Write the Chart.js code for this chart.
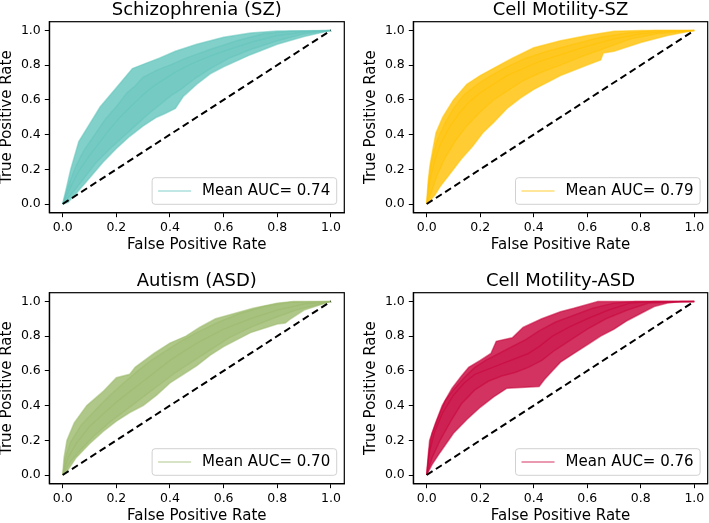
<!DOCTYPE html>
<html>
<head>
<meta charset="utf-8">
<script src="https://cdn.jsdelivr.net/npm/chart.js@4.4.0/dist/chart.umd.min.js"></script>
<style>
  html, body { margin: 0; padding: 0; background: #fff; overflow: hidden; }
  body { width: 709px; height: 523px; position: relative; }
  canvas { position: absolute; }
</style>
</head>
<body>
<canvas id="c0"></canvas>
<canvas id="c1"></canvas>
<canvas id="c2"></canvas>
<canvas id="c3"></canvas>
<script>
// shared tick values for both axes
const tickVals = [0, 0.2, 0.4, 0.6, 0.8, 1.0];
const chance = [[0, 0], [1, 1]];

const titles = ['Schizophrenia (SZ)', 'Cell Motility-SZ', 'Autism (ASD)', 'Cell Motility-ASD'];
const meanAuc = [0.74, 0.79, 0.70, 0.76];

// Schizophrenia (SZ): [fpr, tpr] pairs
// runs are [middle, lower-middle, upper-middle]
const szLower = [[0,0],[0.02,0.01],[0.05,0.06],[0.1,0.15],[0.15,0.24],[0.2,0.32],[0.25,0.39],[0.3,0.45],[0.35,0.5],[0.38,0.52],[0.42,0.55],[0.45,0.62],[0.5,0.69],[0.55,0.75],[0.6,0.79],[0.7,0.86],[0.8,0.92],[0.9,0.965],[1,1]];
const szUpper = [[0,0],[0.015,0.1],[0.03,0.2],[0.06,0.36],[0.1,0.46],[0.14,0.56],[0.2,0.67],[0.26,0.78],[0.31,0.81],[0.36,0.84],[0.42,0.88],[0.5,0.92],[0.6,0.96],[0.7,0.985],[0.8,0.997],[1,1]];
const szRuns = [
  [[0,0],[0.03,0.1],[0.06,0.19],[0.1,0.28],[0.14,0.36],[0.18,0.44],[0.22,0.51],[0.26,0.57],[0.3,0.63],[0.34,0.68],[0.38,0.72],[0.42,0.76],[0.47,0.8],[0.53,0.84],[0.6,0.88],[0.7,0.93],[0.8,0.97],[0.9,0.99],[1,1]],
  [[0,0],[0.04,0.07],[0.08,0.15],[0.12,0.23],[0.17,0.31],[0.22,0.38],[0.27,0.45],[0.32,0.52],[0.36,0.57],[0.4,0.62],[0.44,0.66],[0.49,0.72],[0.55,0.78],[0.62,0.84],[0.7,0.89],[0.8,0.94],[0.9,0.98],[1,1]],
  [[0,0],[0.02,0.1],[0.05,0.22],[0.08,0.31],[0.12,0.4],[0.16,0.49],[0.2,0.56],[0.24,0.64],[0.27,0.68],[0.3,0.73],[0.35,0.77],[0.4,0.8],[0.46,0.84],[0.55,0.89],[0.65,0.94],[0.75,0.98],[0.85,0.995],[1,1]]
];

// Cell Motility-SZ
const cmszLower = [[0,0],[0.03,0.05],[0.05,0.1],[0.1,0.2],[0.13,0.26],[0.17,0.33],[0.21,0.41],[0.25,0.47],[0.3,0.55],[0.35,0.61],[0.4,0.66],[0.5,0.74],[0.6,0.8],[0.65,0.83],[0.66,0.87],[0.7,0.88],[0.8,0.93],[0.9,0.97],[1,1]];
const cmszUpper = [[0,0],[0.005,0.12],[0.012,0.22],[0.025,0.33],[0.035,0.41],[0.06,0.5],[0.1,0.6],[0.15,0.69],[0.2,0.74],[0.26,0.79],[0.32,0.84],[0.4,0.9],[0.5,0.94],[0.6,0.97],[0.7,0.995],[0.8,1],[1,1]];
const cmszRuns = [
  [[0,0],[0.01,0.12],[0.03,0.25],[0.05,0.34],[0.08,0.43],[0.12,0.52],[0.16,0.59],[0.2,0.64],[0.25,0.69],[0.3,0.74],[0.36,0.78],[0.42,0.82],[0.5,0.86],[0.6,0.91],[0.7,0.95],[0.8,0.98],[0.9,0.995],[1,1]],
  [[0,0],[0.02,0.08],[0.04,0.17],[0.07,0.27],[0.11,0.37],[0.15,0.45],[0.2,0.53],[0.25,0.6],[0.3,0.65],[0.36,0.71],[0.43,0.76],[0.5,0.8],[0.58,0.85],[0.67,0.9],[0.76,0.95],[0.86,0.98],[1,1]],
  [[0,0],[0.01,0.16],[0.02,0.26],[0.04,0.37],[0.07,0.47],[0.1,0.55],[0.14,0.63],[0.19,0.69],[0.24,0.74],[0.3,0.79],[0.37,0.84],[0.45,0.88],[0.55,0.92],[0.65,0.96],[0.75,0.985],[0.85,1],[1,1]]
];

// Autism (ASD)
const asdLower = [[0,0],[0.02,0.03],[0.05,0.1],[0.1,0.18],[0.15,0.25],[0.2,0.31],[0.25,0.36],[0.3,0.4],[0.35,0.46],[0.4,0.53],[0.45,0.58],[0.5,0.63],[0.55,0.69],[0.6,0.74],[0.7,0.82],[0.8,0.87],[0.83,0.875],[0.85,0.9],[0.9,0.95],[1,1]];
const asdUpper = [[0,0],[0.005,0.1],[0.016,0.2],[0.043,0.3],[0.09,0.4],[0.15,0.48],[0.2,0.56],[0.25,0.58],[0.27,0.62],[0.34,0.7],[0.4,0.76],[0.46,0.8],[0.51,0.85],[0.57,0.9],[0.64,0.93],[0.71,0.96],[0.8,0.99],[0.86,1],[1,1]];
const asdRuns = [
  [[0,0],[0.02,0.1],[0.05,0.18],[0.1,0.28],[0.15,0.35],[0.2,0.42],[0.25,0.48],[0.3,0.54],[0.35,0.6],[0.4,0.66],[0.45,0.71],[0.5,0.76],[0.6,0.84],[0.7,0.9],[0.8,0.95],[0.9,0.985],[1,1]],
  [[0,0],[0.03,0.08],[0.07,0.15],[0.12,0.23],[0.18,0.31],[0.24,0.38],[0.3,0.45],[0.36,0.52],[0.42,0.59],[0.48,0.65],[0.55,0.72],[0.62,0.79],[0.7,0.85],[0.78,0.9],[0.87,0.95],[1,1]],
  [[0,0],[0.01,0.1],[0.03,0.19],[0.07,0.29],[0.12,0.37],[0.17,0.45],[0.22,0.52],[0.28,0.6],[0.33,0.66],[0.38,0.71],[0.44,0.77],[0.5,0.82],[0.58,0.88],[0.66,0.93],[0.75,0.97],[0.85,0.995],[1,1]]
];

// Cell Motility-ASD
const cmasdLower = [[0,0],[0.02,0.06],[0.05,0.13],[0.1,0.24],[0.15,0.32],[0.2,0.39],[0.25,0.45],[0.28,0.48],[0.3,0.5],[0.42,0.51],[0.44,0.55],[0.47,0.6],[0.5,0.65],[0.55,0.7],[0.6,0.75],[0.65,0.8],[0.7,0.84],[0.75,0.89],[0.8,0.93],[0.85,0.97],[0.9,0.99],[0.95,1],[1,1]];
const cmasdUpper = [[0,0],[0.005,0.1],[0.011,0.2],[0.033,0.3],[0.058,0.4],[0.095,0.5],[0.13,0.57],[0.157,0.62],[0.2,0.66],[0.24,0.7],[0.26,0.77],[0.32,0.79],[0.36,0.85],[0.43,0.9],[0.5,0.94],[0.55,0.96],[0.64,1],[1,1]];
const cmasdRuns = [
  [[0,0],[0.01,0.13],[0.03,0.25],[0.06,0.36],[0.1,0.46],[0.14,0.53],[0.18,0.58],[0.23,0.61],[0.28,0.64],[0.33,0.67],[0.38,0.7],[0.42,0.74],[0.47,0.8],[0.53,0.85],[0.6,0.9],[0.68,0.95],[0.76,0.99],[0.85,1],[1,1]],
  [[0,0],[0.02,0.1],[0.05,0.2],[0.09,0.31],[0.13,0.41],[0.18,0.49],[0.23,0.54],[0.28,0.57],[0.33,0.59],[0.38,0.62],[0.43,0.66],[0.48,0.72],[0.54,0.78],[0.6,0.84],[0.67,0.9],[0.75,0.95],[0.83,0.99],[1,1]],
  [[0,0],[0.01,0.15],[0.02,0.24],[0.04,0.32],[0.07,0.43],[0.1,0.49],[0.14,0.56],[0.18,0.62],[0.22,0.66],[0.27,0.7],[0.32,0.74],[0.37,0.78],[0.42,0.83],[0.48,0.88],[0.55,0.92],[0.62,0.96],[0.7,0.99],[0.78,1],[1,1]]
];

const lowers = [szLower, cmszLower, asdLower, cmasdLower];
const uppers = [szUpper, cmszUpper, asdUpper, cmasdUpper];
const runs = [szRuns, cmszRuns, asdRuns, cmasdRuns];

const colors = ['98,196,188', '255,193,0', '155,185,108', '199,0,57'];

// canvas placement and fixed axis sizes per subplot
const panels = [
  { left: -5, top: 0, width: 360, height: 262, padTop: 21.7, padRight: 10.7, yAxisW: 54.3, xAxisH: 49.3 },
  { left: 355, top: 0, width: 354, height: 262, padTop: 21.7, padRight: 1.3, yAxisW: 58.3, xAxisH: 49.3 },
  { left: -5, top: 262, width: 360, height: 275, padTop: 30.7, padRight: 10.7, yAxisW: 54.3, xAxisH: 53.3 },
  { left: 355, top: 262, width: 354, height: 275, padTop: 30.7, padRight: 1.3, yAxisW: 58.3, xAxisH: 53.3 }
];

Chart.defaults.font.family = '"DejaVu Sans", sans-serif';
Chart.defaults.color = '#000';

// frame, title and lower-right legend, drawn like matplotlib does
const panelDeco = {
  id: 'panelDeco',
  afterDatasetsDraw(chart, args, opts) {
    const { ctx, chartArea: ca } = chart;
    ctx.save();
    ctx.strokeStyle = '#000';
    ctx.lineWidth = 1.2;
    ctx.strokeRect(ca.left, ca.top, ca.right - ca.left, ca.bottom - ca.top);

    ctx.fillStyle = '#000';
    ctx.font = '18px "DejaVu Sans"';
    ctx.textAlign = 'center';
    ctx.textBaseline = 'alphabetic';
    ctx.fillText(opts.title, (ca.left + ca.right) / 2, ca.top - 6.7);

    ctx.font = '15px "DejaVu Sans"';
    const tw = ctx.measureText(opts.label).width;
    const h = 26.6, w = 6 + 33 + 11 + tw + 6.5;
    const x1 = ca.right - 7.6, y1 = ca.bottom - 8.4;
    const x0 = x1 - w, y0 = y1 - h;
    ctx.beginPath();
    ctx.roundRect(x0, y0, w, h, 3);
    ctx.fillStyle = 'rgba(255,255,255,0.8)';
    ctx.fill();
    ctx.strokeStyle = 'rgba(204,204,204,0.9)';
    ctx.lineWidth = 1;
    ctx.stroke();
    ctx.beginPath();
    ctx.moveTo(x0 + 6, y0 + h / 2);
    ctx.lineTo(x0 + 39, y0 + h / 2);
    ctx.strokeStyle = `rgba(${opts.rgb},0.4)`;
    ctx.lineWidth = 2;
    ctx.stroke();
    ctx.fillStyle = '#000';
    ctx.textAlign = 'left';
    ctx.textBaseline = 'middle';
    ctx.fillText(opts.label, x0 + 50, y0 + h / 2);
    ctx.restore();
  }
};

// outer band = lower..upper envelope, inner core = lower-middle..upper-middle runs
function buildDatasets(i) {
  const rgb = colors[i];
  const line = a => `rgba(${rgb},${a})`;
  const [mid, coreLow, coreHigh] = runs[i];
  return [
    { data: chance, borderColor: '#000', borderDash: [7, 4], borderWidth: 2 },
    { data: mid, borderColor: line(0.5), borderWidth: 1.5 },
    { data: coreLow, borderColor: line(0.5), borderWidth: 1.5 },
    { data: coreHigh, borderColor: line(0.5), borderWidth: 1.5, fill: '-1', backgroundColor: line(0.35) },
    { data: lowers[i], borderColor: line(0.55), borderWidth: 1.5 },
    { data: uppers[i], borderColor: line(0.55), borderWidth: 1.5, fill: '-1', backgroundColor: line(0.8) }
  ];
}

function axis(p, isX) {
  return {
    type: 'linear',
    min: -0.05,
    max: 1.05,
    afterBuildTicks: s => { s.ticks = tickVals.map(v => ({ value: v })); },
    afterFit: s => {
      if (isX) s.height = p.xAxisH; else s.width = p.yAxisW;
      s.paddingLeft = 0; s.paddingRight = 0; s.paddingTop = 0; s.paddingBottom = 0;
    },
    ticks: { font: { size: 12.5 }, color: '#000', padding: isX ? 3.5 : 4, maxRotation: 0,
             callback: v => v.toFixed(1) },
    grid: { display: true, drawOnChartArea: false, drawTicks: true, tickLength: 4.5, color: '#000', lineWidth: 1 },
    border: { display: true, color: '#000', width: 1.2 },
    title: isX
      ? { display: true, text: 'False Positive Rate', font: { size: 15 }, color: '#000',
          padding: { top: 0, bottom: p.xAxisH - 41.5 } }
      : { display: true, text: 'True Positive Rate', font: { size: 15 }, color: '#000',
          padding: { top: p.yAxisW - 51, bottom: 0 } }
  };
}

panels.forEach((p, i) => {
  const cv = document.getElementById('c' + i);
  cv.width = p.width;
  cv.height = p.height;
  cv.style.left = p.left + 'px';
  cv.style.top = p.top + 'px';
  new Chart(cv, {
    type: 'line',
    data: { datasets: buildDatasets(i) },
    options: {
      responsive: false,
      animation: false,
      devicePixelRatio: 1,
      layout: { padding: { top: p.padTop, right: p.padRight, left: 0, bottom: 0 } },
      elements: { point: { radius: 0 }, line: { tension: 0, fill: false } },
      scales: { x: axis(p, true), y: axis(p, false) },
      plugins: {
        legend: { display: false },
        tooltip: { enabled: false },
        panelDeco: { title: titles[i], label: 'Mean AUC= ' + meanAuc[i].toFixed(2), rgb: colors[i] }
      }
    },
    plugins: [panelDeco]
  });
});
</script>
</body>
</html>
